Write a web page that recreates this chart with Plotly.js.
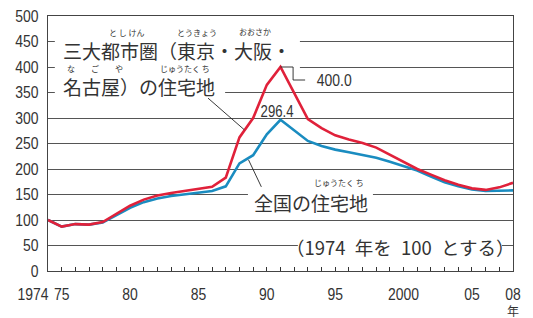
<!DOCTYPE html>
<html>
<head>
<meta charset="utf-8">
<script src="https://cdn.plot.ly/plotly-3.0.1.min.js"></script>
<style>html,body{margin:0;padding:0;background:#fff;}#chart{width:533px;height:318px;}</style>
</head>
<body>
<div id="chart"></div>
<script>
// ---- data ----
const years = [1974,1975,1976,1977,1978,1979,1980,1981,1982,1983,1984,1985,1986,1987,1988,1989,1990,1991,1992,1993,1994,1995,1996,1997,1998,1999,2000,2001,2002,2003,2004,2005,2006,2007,2008];
const metroValues = [100,87,92,91,96,112,128,140,148,153,157,162,165,183,262,300,365,400.0,348,298,280,266,258,251,242,228,214,200,189,178,169,162,159,164,173];
const nationalValues = [100,87,92,91,95,110,124,135,142,147,150,153,157,166,211,227,268,296.4,275,255,245,238,233,228,222,214,206,197,185,174,166,160,157,157,158];
const xTickYears = [1974,1975,1980,1985,1990,1995,2000,2005,2008];
const xTickText = ['1974','75','80','85','90','95','2000','05','08'];
const yTickValues = [0,50,100,150,200,250,300,350,400,450,500];
const metroName = '三大都市圏（東京・大阪・名古屋）の住宅地';
const nationalName = '全国の住宅地';

const RED = '#e0213a', BLUE = '#1a8cc0';
const NUM = '"Liberation Sans Narrow","Liberation Sans",sans-serif';
const JP = '"Noto Sans CJK JP","Noto Sans CJK SC",sans-serif';
const INK = '#333';
const CONDENSE = 0.82;

const peakIdx = metroValues.indexOf(Math.max(...metroValues));
const natPeakIdx = nationalValues.indexOf(Math.max(...nationalValues));

const traces = [
  {x: years, y: nationalValues, type: 'scatter', mode: 'lines', name: nationalName,
   line: {color: BLUE, width: 2.6}, hoverinfo: 'skip'},
  {x: years, y: metroValues, type: 'scatter', mode: 'lines', name: metroName,
   line: {color: RED, width: 2.6}, hoverinfo: 'skip'}
];

function rect(x0,x1,y0,y1){return {type:'rect', layer:'between', xref:'x', yref:'y', x0:x0, x1:x1, y0:y0, y1:y1, fillcolor:'#ffffff', line:{width:0}};}
function seg(x0,y0,x1,y1){return {type:'line', xref:'x', yref:'y', x0:x0, y0:y0, x1:x1, y1:y1, line:{color:'#222', width:0.9}};}

const pkX = years[peakIdx], pkY = metroValues[peakIdx];
const shapes = [
  rect(1974.5, 1992.42, 380, 470),
  rect(1974.5, 1986.95, 328, 372),
  rect(1988.62, 1997.76, 140, 160),
  rect(1992.27, 2007.19, 40, 60),
  {type:'path', xref:'x', yref:'y', path:`M ${pkX},${pkY} L ${pkX+0.92},${pkY} L ${pkX+0.92},374.5 L ${pkX+1.8},374.5`, line:{color:'#222', width:0.9}},
  seg(1985.7, 339, 1988.35, 277),
  seg(1989.6, 165, 1988.66, 218)
];

function txt(x,y,s,size,font,xanchor){return {x:x, y:y, xref:'x', yref:'y', text:s, showarrow:false, xanchor:xanchor||'center', yanchor:'middle', borderpad:0, font:{family:font, size:size, color:INK}};}

// every year gets a tick; labels only for selected years (1974 drawn separately, left of the axis)
const allTickText = years.map(y => {
  const i = xTickYears.indexOf(y);
  return (i >= 1) ? xTickText[i] : '';
});

const EN = '\u2002';
const annotations = [
  txt(1975.02, 433, '三大都市圏（東京・大阪・', 19, JP, 'left'),
  txt(1975.02, 362.7, '名古屋）の住宅地', 19, JP, 'left'),
  txt(1979.77, 468, 'と し けん', 8, JP),
  txt(1984.9, 468, 'とうきょう', 8, JP),
  txt(1989.13, 469, 'おおさか', 8, JP),
  txt(1977.44, 398, 'な　　ご　　や', 8, JP),
  txt(1984.0, 398, 'じゅうたく ち', 8, JP),
  txt(1988.99, 135.3, nationalName, 19, JP, 'left'),
  txt(1995.27, 174.5, 'じゅうたく ち', 8, JP),
  txt(1991.3, 48, '（1974' + EN + '年を' + EN + '100' + EN + 'とする）', 18.5, JP, 'left'),
  txt(pkX + 2.3, 374.5, pkY.toFixed(1), 17, NUM, 'left'),
  txt(years[natPeakIdx] - 0.22, 312.5, String(nationalValues[natPeakIdx]), 16, NUM),
  {x: xTickYears[0], xshift: -15.5, y: -0.094, xref:'x', yref:'paper', text: xTickText[0], showarrow:false, xanchor:'center', yanchor:'middle', font:{family:NUM, size:17, color:INK}},
  {x: xTickYears[xTickYears.length-1], y: -0.156, xref:'x', yref:'paper', text: '年', showarrow:false, xanchor:'center', yanchor:'middle', font:{family:JP, size:12, color:INK}}
];

const layout = {
  width: 533, height: 318,
  margin: {l: 48, r: 20, t: 16, b: 47, pad: 0},
  paper_bgcolor: '#ffffff', plot_bgcolor: '#ffffff',
  showlegend: false,
  xaxis: {
    range: [1974, 2008], tickmode: 'array', tickvals: years, ticktext: allTickText,
    ticks: 'inside', ticklen: 4, tickcolor: '#333', tickwidth: 1,
    showgrid: false, zeroline: false,
    showline: true, linecolor: '#444', linewidth: 1, mirror: true,
    tickfont: {family: NUM, size: 17, color: INK}, ticklabelstandoff: 8
  },
  yaxis: {
    range: [0, 500], tickmode: 'array', tickvals: yTickValues,
    ticks: '', showgrid: true, gridcolor: '#555', gridwidth: 1, zeroline: false,
    showline: true, linecolor: '#444', linewidth: 1, mirror: true,
    tickfont: {family: NUM, size: 17, color: INK}, ticklabelstandoff: 5
  },
  shapes: shapes,
  annotations: annotations
};

// the reference uses a condensed numeral face: narrow the numeric labels in place
function condense(el){
  const w = el.getComputedTextLength();
  if (w > 0) { el.setAttribute('textLength', (w * CONDENSE).toFixed(2)); el.setAttribute('lengthAdjust', 'spacingAndGlyphs'); }
}
Plotly.newPlot('chart', traces, layout, {staticPlot: true, displayModeBar: false}).then(gd => {
  gd.querySelectorAll('.xtick text, .ytick text').forEach(condense);
  gd.querySelectorAll('.annotation text').forEach(t => {
    if (/^[0-9.]+$/.test(t.textContent.trim())) condense(t);
  });
});
</script>
</body>
</html>
